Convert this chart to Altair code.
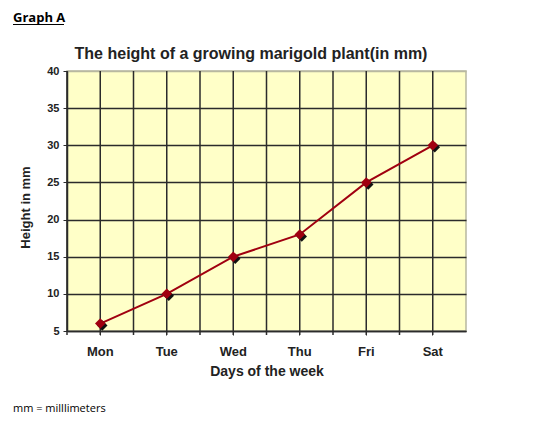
import altair as alt
import pandas as pd

days = ["Mon", "Tue", "Wed", "Thu", "Fri", "Sat"]
heights = [6, 10, 15, 18, 25, 30]
y_ticks = [5, 10, 15, 20, 25, 30, 35, 40]

df = pd.DataFrame({"day": days, "height": heights})

W, H = 399, 260
BG = "#FFFFC8"
GRID = "#2b2b2b"
RED = "#A00010"
BORDER = "#b8b8a0"

xscale = alt.Scale(domain=days, paddingInner=0, paddingOuter=0)
yscale = alt.Scale(domain=[5, 40], nice=False, zero=False)

base = alt.Chart(df)

xaxis = alt.Axis(
    title="Days of the week", labelAngle=0, labelAlign="center", labelFlush=False,
    labelFont="Liberation Sans", labelFontWeight="bold",
    labelFontSize=13, labelColor="#222", labelPadding=10, tickSize=4, tickColor=GRID,
    domainColor=GRID, domainWidth=1.5, grid=False, bandPosition=0.5,
    titleFont="Liberation Sans", titleFontWeight="bold", titleFontSize=14, titleColor="#222",
    titleY=40, titleBaseline="middle",
)
yaxis = alt.Axis(
    title="Height in mm", values=y_ticks, tickCount=8, labelOverlap=False,
    labelFlush=False, labelFont="Liberation Sans",
    labelFontWeight="bold", labelFontSize=11, labelColor="#222", labelPadding=4, tickSize=4,
    tickColor=GRID, domainColor=GRID, domainWidth=1.5, grid=True,
    gridColor={"condition": {"test": "datum.value == 40", "value": BORDER}, "value": GRID},
    gridWidth=1.5, gridOpacity=1, titleFont="Liberation Sans", titleFontWeight="bold",
    titleFontSize=13, titleColor="#222", titleX=-42, titleY=136, titleAngle=270,
    titleBaseline="middle",
)

X = alt.X("day:N", scale=xscale, sort=days, axis=xaxis)
Y = alt.Y("height:Q", scale=yscale, axis=yaxis)

center_rules = base.mark_rule(color=GRID, strokeWidth=1.5).encode(
    x=X, y=alt.value(0), y2=alt.value(H + 4),
)
edge_rules = base.mark_rule(color=GRID, strokeWidth=1.5).encode(
    x=alt.X("day:N", scale=xscale, sort=days, bandPosition=0, axis=xaxis),
    y=alt.value(0), y2=alt.value(H + 4),
)

line = base.mark_line(color=RED, strokeWidth=2).encode(x=X, y=Y)
shadow = base.mark_point(shape="diamond", filled=True, color="#111", size=110, opacity=1,
                         xOffset=2, yOffset=2).encode(x=X, y=Y)
points = base.mark_point(shape="diamond", filled=True, color=RED, size=110, opacity=1).encode(
    x=X, y=Y)

title_df = pd.DataFrame({"t": ["The height of a growing marigold plant(in mm)"]})
title = alt.Chart(title_df).mark_text(
    font="Liberation Sans", fontWeight="bold", fontSize=16, color="#222", align="center",
    baseline="alphabetic",
).encode(text="t:N", x=alt.value(184), y=alt.value(-12))

graph_df = pd.DataFrame({"t": ["Graph A"]})
graph_label = alt.Chart(graph_df).mark_text(
    font="Open Sans", fontWeight="bold", fontSize=13, color="#000", align="left",
    baseline="alphabetic",
).encode(text="t:N", x=alt.value(-54), y=alt.value(-49))
underline = alt.Chart(graph_df).mark_rule(color="#000", strokeWidth=1).encode(
    x=alt.value(-54), x2=alt.value(-3), y=alt.value(-46.5)
)

note_df = pd.DataFrame({"t": ["mm = milllimeters"]})
note = alt.Chart(note_df).mark_text(
    font="Open Sans", fontSize=11, color="#000", align="left", baseline="alphabetic",
).encode(text="t:N", x=alt.value(-54), y=alt.value(341))

chart = alt.layer(
    edge_rules, center_rules, line, shadow, points, title, graph_label, underline, note
).properties(
    width=W, height=H,
    background="white",
    autosize=alt.AutoSizeParams(type="none"),
    padding={"left": 59, "top": 63, "right": 64, "bottom": 87},
).configure_view(
    fill=BG, stroke=BORDER, strokeWidth=1.5
)

chart.save("out.html", embed_options={"renderer": "svg", "actions": False})
